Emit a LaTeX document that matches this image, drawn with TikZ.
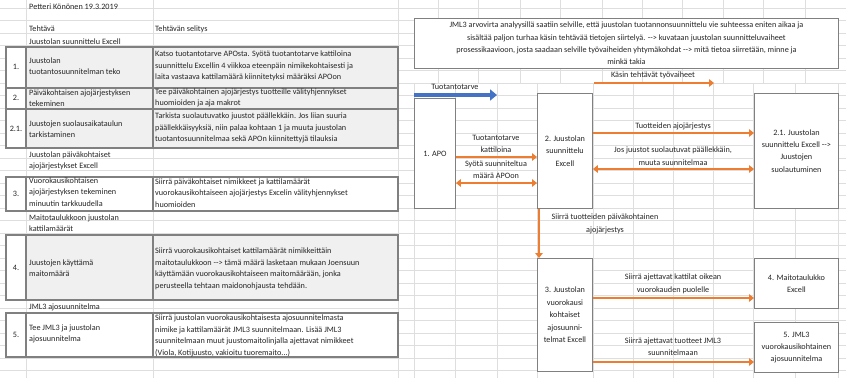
\documentclass[tikz,border=0pt]{standalone}
\usepackage{fontspec}
\setmainfont{Carlito}[Ligatures=TeXOff]
\usetikzlibrary{arrows.meta}

\definecolor{gridgray}{HTML}{DEDEDE}
\definecolor{rowgray}{HTML}{F0F0F0}
\definecolor{bordergray}{HTML}{808080}
\definecolor{floworange}{HTML}{ED7D31}
\definecolor{flowblue}{HTML}{4472C4}
\definecolor{inkgray}{HTML}{262626}

\tikzset{
  celltext/.style={font=\fontsize{8.2}{11.6}\selectfont, text=inkgray, inner sep=0pt, align=left, anchor=west},
  lbl/.style={font=\fontsize{8.2}{12.4}\selectfont, text=inkgray, inner sep=0pt, align=center},
  rowbox/.style={draw=bordergray, line width=1.4pt},
  flowbox/.style={draw=bordergray, line width=0.9pt, fill=white, anchor=north west,
    align=center, inner sep=1pt, text=inkgray, font=\fontsize{8.2}{12.4}\selectfont},
  orarrow/.style={draw=floworange, line width=2.6pt, >={Triangle[length=5pt,width=7.5pt]}},
  bluearrow/.style={draw=flowblue, line width=4.5pt, -{Triangle[length=7pt,width=11pt]}},
}

\begin{document}
\begin{tikzpicture}[x=1pt,y={(0pt,-1pt)}]
  \useasboundingbox (0,0) rectangle (846,378);
  \fill[white] (0,0) rectangle (846,378);

  % Excel grid in the background
  \foreach \y in {8,20.5,...,378} \draw[gridgray] (0,\y) -- (846,\y);
  \foreach \x in {26,153,398,438,478,520,560,602,642,682,723,763,805}
    \draw[gridgray] (\x,0) -- (\x,84);
  \foreach \x in {26,153,398,414,455,497,537,593,633,673,713,753,795,838}
    \draw[gridgray] (\x,84) -- (\x,378);

  % Task table: one framed row per numbered step
  \foreach \ya/\yb/\fc in {47/88/rowgray,88/109/rowgray,109/148/rowgray,177/211/white,235/300/rowgray,313/357/white}{
    \fill[\fc] (26,\ya) rectangle (398,\yb);
    \fill[white] (6,\ya) rectangle (26,\yb);
    \draw[rowbox] (6,\ya) rectangle (398,\yb);
    \draw[rowbox] (26,\ya) -- (26,\yb) (153,\ya) -- (153,\yb);
  }

  % Table texts
  \node[celltext] (author) at (29,7) {Petteri Könönen 19.3.2019};
  \node[celltext] (hTask) at (29,29) {Tehtävä};
  \node[celltext] (hDesc) at (155,29) {Tehtävän selitys};
  \node[celltext] (sec1) at (29,42) {Juustolan suunnittelu Excell};
  \node[lbl] (n1) at (16,67) {1.};
  \node[celltext] (t1) at (29,66) {Juustolan\\tuotantosuunnitelman teko};
  \node[celltext] (d1) at (155,66) {Katso tuotantotarve APOsta. Syötä tuotantotarve kattiloina\\suunnittelu Excellin 4 viikkoa eteenpäin nimikekohtaisesti ja\\laita vastaava kattilamäärä kiinnitetyksi määräksi APOon};
  \node[lbl] (n2) at (16,98) {2.};
  \node[celltext] (t2) at (29,98) {Päiväkohtaisen ajojärjestyksen\\tekeminen};
  \node[celltext] (d2) at (155,98) {Tee päiväkohtainen ajojärjestys tuotteille välityhjennykset\\huomioiden ja aja makrot};
  \node[lbl] (n21) at (16,129) {2.1.};
  \node[celltext] (t21) at (29,129) {Juustojen suolausaikataulun\\tarkistaminen};
  \node[celltext] (d21) at (155,128) {Tarkista suolautuvatko juustot päällekkäin. Jos liian suuria\\päällekkäisyyksiä, niin palaa kohtaan 1 ja muuta juustolan\\tuotantosuunnitelmaa sekä APOn kiinnitettyjä tilauksia};
  \node[celltext] (sec2) at (29,161) {Juustolan päiväkohtaiset\\ajojärjestykset Excell};
  \node[lbl] (n3) at (16,194) {3.};
  \node[celltext] (t3) at (29,192) {Vuorokausikohtaisen\\ajojärjestyksen tekeminen\\minuutin tarkkuudella};
  \node[celltext] (d3) at (155,193) {Siirrä päiväkohtaiset nimikkeet ja kattilamäärät\\vuorokausikohtaiseen ajojärjestys Excelin välityhjennykset\\huomioiden};
  \node[celltext] (sec3) at (29,223) {Maitotaulukkoon juustolan\\kattilamäärät};
  \node[lbl] (n4) at (16,268) {4.};
  \node[celltext] (t4) at (29,268) {Juustojen käyttämä\\maitomäärä};
  \node[celltext] (d4) at (155,269) {Siirrä vuorokausikohtaiset kattilamäärät nimikkeittäin\\maitotaulukkoon --> tämä määrä lasketaan mukaan Joensuun\\käyttämään vuorokausikohtaiseen maitomäärään, jonka\\perusteella tehtaan maidonohjausta tehdään.};
  \node[celltext] (sec4) at (29,307) {JML3 ajosuunnitelma};
  \node[lbl] (n5) at (16,335) {5.};
  \node[celltext] (t5) at (29,334) {Tee JML3 ja juustolan\\ajosuunnitelma};
  \node[celltext] (d5) at (155,336) {Siirrä juustolan vuorokausikohtaisesta ajosuunnitelmasta\\nimike ja kattilamäärät JML3 suunnitelmaan. Lisää JML3\\suunnitelmaan muut juustomaitolinjalla ajettavat nimikkeet\\(Viola, Kotijuusto, vakioitu tuoremaito...)};

  % Intro box
  \node[flowbox, minimum width=424pt, minimum height=50pt] (intro) at (414,18)
    {JML3 arvovirta analyysillä saatiin selville, että juustolan tuotannonsuunnittelu vie suhteessa eniten aikaa ja\\
     sisältää paljon turhaa käsin tehtävää tietojen siirtelyä. --> kuvataan juustolan suunnitteluvaiheet\\
     prosessikaavioon, josta saadaan selville työvaiheiden yhtymäkohdat --> mitä tietoa siirretään, minne ja\\
     minkä takia};

  % Process boxes
  \node[flowbox, minimum width=41pt, minimum height=110pt] (apo) at (414,98) {1. APO};
  \node[flowbox, minimum width=55pt, minimum height=115pt] (plan) at (537,93) {2. Juustolan\\suunnittelu\\Excell};
  \node[flowbox, minimum width=84pt, minimum height=115pt] (salt) at (754,93) {2.1. Juustolan\\suunnittelu Excell -->\\Juustojen\\suolautuminen};
  \node[flowbox, minimum width=55pt, minimum height=113pt] (daily) at (537,258) {3. Juustolan\\vuorokausi\\kohtaiset\\ajosuunni-\\telmat Excell};
  \node[flowbox, minimum width=84pt, minimum height=50pt] (milk) at (754,258) {4. Maitotaulukko\\Excell};
  \node[flowbox, minimum width=84pt, minimum height=50pt] (jml) at (754,322) {5. JML3\\vuorokausikohtainen\\ajosuunnitelma};

  % Free arrows on top
  \coordinate (kasinA) at (594,83);
  \coordinate (kasinB) at (714,83);
  \node[lbl] (lKasin) at (653,75) {Käsin tehtävät työvaiheet};
  \draw[orarrow, ->] (kasinA) -- (kasinB);
  \coordinate (tarve) at (497,95);
  \node[lbl] (lTarve) at (455,87) {Tuotantotarve};
  \draw[bluearrow] (apo.north west |- tarve) -- (tarve);

  % APO <-> planning Excel
  \node[lbl] (lKatt) at (496,144) {Tuotantotarve\\kattiloina};
  \draw[orarrow, ->] (apo.east |- 0,157) -- (plan.west |- 0,157);
  \node[lbl] (lSyota) at (496,169.5) {Syötä suunniteltua\\määrä APOon};
  \draw[orarrow, <->] (apo.east |- 0,183) -- (plan.west |- 0,183);

  % planning Excel <-> salting
  \node[lbl] (lJarj) at (673,126) {Tuotteiden ajojärjestys};
  \draw[orarrow, ->] (plan.east |- 0,133) -- (salt.west |- 0,133);
  \node[lbl] (lJos) at (673,156) {Jos juustot suolautuvat päällekkäin,\\muuta suunnitelmaa};
  \draw[orarrow, <->] (plan.east |- 0,169) -- (salt.west |- 0,169);

  % planning Excel -> daily plans
  \draw[orarrow, ->] ([xshift=2pt]plan.south west) -- ([xshift=2pt]daily.north west);
  \node[lbl] (lSiirra) at (605,224) {Siirrä tuotteiden päiväkohtainen\\ajojärjestys};

  % daily plans -> milk table and JML3
  \node[lbl] (lKattilat) at (673,284) {Siirrä ajettavat kattilat oikean\\vuorokauden puolelle};
  \draw[orarrow, ->] (daily.east |- 0,298) -- (milk.west |- 0,298);
  \node[lbl] (lTuotteet) at (673,346.5) {Siirrä ajettavat tuotteet JML3\\suunnitelmaan};
  \draw[orarrow, ->] (daily.east |- 0,362) -- (jml.west |- 0,362);
\end{tikzpicture}
\end{document}
